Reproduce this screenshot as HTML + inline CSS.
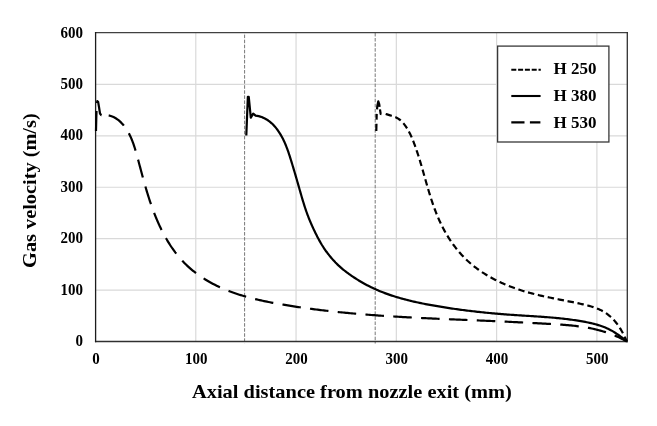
<!DOCTYPE html>
<html><head><meta charset="utf-8"><style>
html,body{margin:0;padding:0;background:#fff;}
svg{display:block;will-change:transform;}
text{font-family:"Liberation Serif","Times New Roman",serif;font-weight:bold;fill:#000;}
</style></head><body>
<svg width="657" height="426" viewBox="0 0 657 426">
<rect x="0" y="0" width="657" height="426" fill="#fff"/>
<g stroke="#d9d9d9" stroke-width="1.2" fill="none">
<line x1="195.78" y1="32.5" x2="195.78" y2="341.5"/>
<line x1="296.06" y1="32.5" x2="296.06" y2="341.5"/>
<line x1="396.34" y1="32.5" x2="396.34" y2="341.5"/>
<line x1="496.62" y1="32.5" x2="496.62" y2="341.5"/>
<line x1="596.9" y1="32.5" x2="596.9" y2="341.5"/>
<line x1="95.5" y1="290.08" x2="627" y2="290.08"/>
<line x1="95.5" y1="238.66" x2="627" y2="238.66"/>
<line x1="95.5" y1="187.24" x2="627" y2="187.24"/>
<line x1="95.5" y1="135.82" x2="627" y2="135.82"/>
<line x1="95.5" y1="84.4" x2="627" y2="84.4"/>
</g>
<g stroke="#787878" stroke-width="1" stroke-dasharray="3.55,1.512" fill="none">
<line x1="244.6" y1="33" x2="244.6" y2="343.5" stroke-dashoffset="3.46"/>
<line x1="375.2" y1="33" x2="375.2" y2="343.5" stroke-dashoffset="0.06"/>
</g>
<g fill="none" stroke-width="1.3" stroke-linecap="square">
<line x1="95.6" y1="32.6" x2="627.3" y2="32.6" stroke="#404040"/>
<line x1="627.3" y1="32.6" x2="627.3" y2="341.5" stroke="#303030"/>
<line x1="95.6" y1="341.5" x2="627.3" y2="341.5" stroke="#303030"/>
<line x1="95.6" y1="32.6" x2="95.6" y2="341.5" stroke="#1c1c1c"/>
</g>
<g fill="none" stroke="#000" stroke-width="2.2" stroke-linejoin="round">
<path d="M246.3,135.5 L247.85,96.9 L248.75,96.9 L250.8,117.7 L253.2,113.6 L255.6,115.6 L255.59,115.61 L257.17,115.85 L258.7,116.18 L260.19,116.59 L261.64,117.07 L263.04,117.63 L264.39,118.26 L265.71,118.95 L266.99,119.7 L268.22,120.52 L269.41,121.39 L270.57,122.32 L271.69,123.3 L272.76,124.32 L273.81,125.39 L274.81,126.49 L275.78,127.64 L276.72,128.82 L277.62,130.03 L278.49,131.27 L279.32,132.53 L280.13,133.82 L280.9,135.12 L281.64,136.44 L282.36,137.77 L283.04,139.1 L283.7,140.45 L284.33,141.8 L284.93,143.17 L285.52,144.53 L286.08,145.91 L286.62,147.29 L287.15,148.68 L287.66,150.07 L288.16,151.47 L288.64,152.88 L289.11,154.29 L289.57,155.7 L290.03,157.12 L290.48,158.55 L290.92,159.97 L291.36,161.41 L291.8,162.84 L292.24,164.28 L292.67,165.72 L293.11,167.17 L293.54,168.61 L293.98,170.06 L294.41,171.52 L294.84,172.97 L295.27,174.42 L295.69,175.88 L296.12,177.34 L296.54,178.79 L296.96,180.25 L297.38,181.71 L297.8,183.17 L298.22,184.63 L298.64,186.08 L299.05,187.54 L299.46,188.99 L299.88,190.45 L300.29,191.9 L300.71,193.35 L301.12,194.8 L301.54,196.24 L301.96,197.69 L302.39,199.13 L302.82,200.57 L303.26,202.01 L303.7,203.44 L304.15,204.87 L304.61,206.3 L305.07,207.73 L305.54,209.15 L306.03,210.57 L306.52,211.99 L307.02,213.4 L307.54,214.81 L308.07,216.21 L308.61,217.61 L309.16,219 L309.73,220.39 L310.31,221.78 L310.9,223.16 L311.5,224.54 L312.11,225.91 L312.73,227.27 L313.36,228.64 L314,229.99 L314.65,231.34 L315.3,232.68 L315.96,234.02 L316.63,235.35 L317.3,236.67 L317.99,237.99 L318.69,239.3 L319.41,240.61 L320.14,241.9 L320.89,243.19 L321.65,244.48 L322.44,245.75 L323.24,247.02 L324.07,248.28 L324.92,249.53 L325.78,250.77 L326.67,252 L327.57,253.22 L328.5,254.42 L329.44,255.62 L330.4,256.8 L331.38,257.96 L332.38,259.11 L333.39,260.24 L334.42,261.36 L335.46,262.46 L336.53,263.54 L337.6,264.6 L338.69,265.64 L339.8,266.65 L340.92,267.65 L342.06,268.63 L343.2,269.58 L344.37,270.51 L345.54,271.43 L346.72,272.33 L347.92,273.21 L349.13,274.08 L350.35,274.94 L351.58,275.79 L352.82,276.63 L354.08,277.46 L355.34,278.28 L356.61,279.1 L357.89,279.9 L359.17,280.69 L360.47,281.47 L361.77,282.24 L363.08,282.99 L364.4,283.73 L365.72,284.45 L367.05,285.16 L368.39,285.85 L369.73,286.53 L371.08,287.2 L372.43,287.85 L373.79,288.48 L375.16,289.1 L376.53,289.71 L377.9,290.31 L379.28,290.89 L380.67,291.46 L382.06,292.02 L383.46,292.56 L384.86,293.1 L386.26,293.62 L387.67,294.13 L389.08,294.62 L390.5,295.11 L391.92,295.59 L393.35,296.05 L394.78,296.51 L396.21,296.95 L397.65,297.39 L399.09,297.81 L400.53,298.23 L401.98,298.63 L403.43,299.03 L404.88,299.42 L406.34,299.8 L407.8,300.17 L409.26,300.53 L410.72,300.89 L412.19,301.23 L413.66,301.57 L415.13,301.91 L416.6,302.23 L418.07,302.55 L419.55,302.86 L421.02,303.17 L422.5,303.47 L423.98,303.77 L425.46,304.05 L426.95,304.34 L428.43,304.62 L429.91,304.89 L431.4,305.16 L432.88,305.43 L434.37,305.69 L435.85,305.94 L437.34,306.2 L438.82,306.45 L440.31,306.69 L441.79,306.93 L443.28,307.17 L444.77,307.41 L446.25,307.64 L447.74,307.87 L449.22,308.1 L450.71,308.32 L452.2,308.54 L453.68,308.76 L455.17,308.97 L456.66,309.18 L458.15,309.39 L459.63,309.59 L461.12,309.79 L462.61,309.99 L464.1,310.18 L465.58,310.37 L467.07,310.56 L468.56,310.74 L470.05,310.93 L471.54,311.1 L473.03,311.28 L474.52,311.45 L476.01,311.62 L477.5,311.79 L478.99,311.95 L480.48,312.12 L481.98,312.27 L483.47,312.43 L484.96,312.58 L486.45,312.73 L487.95,312.88 L489.44,313.02 L490.93,313.16 L492.43,313.3 L493.93,313.44 L495.42,313.57 L496.92,313.7 L498.41,313.83 L499.91,313.96 L501.41,314.08 L502.91,314.2 L504.41,314.32 L505.91,314.43 L507.41,314.55 L508.91,314.66 L510.41,314.76 L511.91,314.87 L513.41,314.97 L514.92,315.07 L516.42,315.17 L517.92,315.27 L519.43,315.36 L520.93,315.46 L522.44,315.55 L523.94,315.65 L525.45,315.74 L526.95,315.83 L528.46,315.93 L529.96,316.02 L531.47,316.11 L532.97,316.21 L534.48,316.31 L535.99,316.4 L537.49,316.5 L539,316.6 L540.5,316.71 L542,316.81 L543.51,316.92 L545.01,317.03 L546.51,317.14 L548.01,317.26 L549.52,317.38 L551.02,317.5 L552.52,317.63 L554.02,317.76 L555.51,317.9 L557.01,318.04 L558.51,318.19 L560,318.34 L561.5,318.5 L562.99,318.66 L564.49,318.83 L565.98,319 L567.47,319.19 L568.96,319.37 L570.44,319.57 L571.93,319.77 L573.41,319.98 L574.9,320.2 L576.38,320.42 L577.86,320.65 L579.34,320.9 L580.81,321.14 L582.29,321.4 L583.76,321.67 L585.23,321.95 L586.7,322.23 L588.17,322.53 L589.63,322.85 L591.09,323.17 L592.54,323.52 L593.99,323.88 L595.44,324.26 L596.87,324.66 L598.3,325.09 L599.73,325.53 L601.14,326.01 L602.55,326.51 L603.94,327.04 L605.33,327.6 L606.7,328.19 L608.07,328.82 L609.42,329.47 L610.76,330.17 L612.09,330.9 L613.4,331.67 L614.7,332.47 L615.99,333.29 L617.26,334.14 L618.51,335.02 L619.75,335.91 L620.97,336.82 L622.17,337.74 L623.36,338.67 L624.52,339.61 L625.67,340.56 L626.79,341.51"/>
<path d="M96,131 L96.3,118 L96.7,106 L97.3,101.2 L98.1,101.8 L99,107 L100,113.5 L101.2,115.2 L104.5,114.9" stroke-dasharray="20,8,17,100"/>
<path d="M104.49,114.89 L106.15,115.01 L107.75,115.24 L109.29,115.56 L110.76,115.98 L112.19,116.49 L113.55,117.09 L114.87,117.76 L116.13,118.5 L117.34,119.32 L118.5,120.19 L119.61,121.13 L120.68,122.11 L121.7,123.15 L122.68,124.22 L123.62,125.33 L124.52,126.47 L125.38,127.65 L126.2,128.84 L126.99,130.07 L127.74,131.31 L128.47,132.58 L129.16,133.88 L129.82,135.19 L130.45,136.53 L131.06,137.88 L131.64,139.25 L132.2,140.63 L132.74,142.03 L133.25,143.44 L133.75,144.87 L134.23,146.31 L134.7,147.75 L135.15,149.21 L135.59,150.67 L136.02,152.14 L136.44,153.61 L136.85,155.09 L137.26,156.56 L137.66,158.04 L138.05,159.52 L138.45,161 L138.84,162.48 L139.23,163.95 L139.63,165.43 L140.02,166.9 L140.41,168.37 L140.8,169.84 L141.19,171.3 L141.59,172.76 L141.98,174.22 L142.38,175.68 L142.77,177.14 L143.17,178.6 L143.57,180.05 L143.98,181.5 L144.39,182.95 L144.8,184.39 L145.21,185.83 L145.62,187.28 L146.05,188.71 L146.47,190.15 L146.9,191.58 L147.33,193.01 L147.77,194.44 L148.22,195.87 L148.67,197.29 L149.12,198.71 L149.58,200.13 L150.05,201.54 L150.53,202.95 L151.01,204.36 L151.5,205.77 L152,207.17 L152.5,208.57 L153.01,209.97 L153.53,211.36 L154.06,212.75 L154.6,214.14 L155.15,215.52 L155.71,216.9 L156.28,218.28 L156.85,219.66 L157.44,221.03 L158.04,222.4 L158.65,223.76 L159.27,225.12 L159.9,226.48 L160.55,227.83 L161.2,229.18 L161.87,230.53 L162.55,231.87 L163.24,233.21 L163.95,234.54 L164.67,235.87 L165.4,237.19 L166.15,238.51 L166.91,239.82 L167.68,241.12 L168.47,242.41 L169.27,243.7 L170.08,244.97 L170.91,246.24 L171.76,247.5 L172.62,248.74 L173.49,249.98 L174.38,251.2 L175.28,252.42 L176.2,253.61 L177.13,254.8 L178.08,255.97 L179.05,257.13 L180.03,258.28 L181.03,259.41 L182.04,260.52 L183.07,261.62 L184.12,262.7 L185.18,263.77 L186.26,264.82 L187.35,265.85 L188.46,266.87 L189.58,267.87 L190.72,268.86 L191.87,269.83 L193.03,270.78 L194.21,271.72 L195.4,272.64 L196.6,273.55 L197.81,274.44 L199.03,275.31 L200.26,276.17 L201.51,277.02 L202.76,277.84 L204.03,278.66 L205.3,279.45 L206.58,280.23 L207.87,281 L209.17,281.75 L210.47,282.48 L211.79,283.2 L213.11,283.91 L214.43,284.59 L215.77,285.27 L217.11,285.93 L218.45,286.57 L219.8,287.2 L221.16,287.82 L222.53,288.42 L223.9,289.01 L225.27,289.59 L226.65,290.15 L228.04,290.7 L229.43,291.24 L230.83,291.76 L232.23,292.28 L233.63,292.78 L235.05,293.27 L236.46,293.75 L237.88,294.22 L239.31,294.68 L240.73,295.12 L242.17,295.56 L243.6,295.99 L245.04,296.41 L246.49,296.81 L247.93,297.21 L249.38,297.6 L250.84,297.99 L252.29,298.36 L253.75,298.72 L255.22,299.08 L256.68,299.43 L258.15,299.77 L259.62,300.11 L261.09,300.43 L262.56,300.75 L264.04,301.07 L265.52,301.38 L267,301.68 L268.48,301.98 L269.96,302.27 L271.44,302.55 L272.93,302.83 L274.41,303.11 L275.9,303.38 L277.39,303.65 L278.88,303.91 L280.36,304.17 L281.85,304.43 L283.34,304.68 L284.83,304.93 L286.32,305.18 L287.81,305.42 L289.3,305.66 L290.79,305.9 L292.28,306.14 L293.76,306.37 L295.25,306.6 L296.74,306.82 L298.23,307.05 L299.72,307.27 L301.21,307.49 L302.7,307.7 L304.19,307.91 L305.68,308.12 L307.17,308.33 L308.67,308.53 L310.16,308.73 L311.65,308.93 L313.14,309.13 L314.63,309.32 L316.12,309.51 L317.61,309.7 L319.1,309.88 L320.59,310.07 L322.08,310.25 L323.58,310.43 L325.07,310.6 L326.56,310.78 L328.05,310.95 L329.54,311.11 L331.04,311.28 L332.53,311.44 L334.02,311.61 L335.51,311.77 L337.01,311.92 L338.5,312.08 L339.99,312.23 L341.48,312.38 L342.98,312.53 L344.47,312.68 L345.96,312.82 L347.46,312.96 L348.95,313.1 L350.45,313.24 L351.94,313.38 L353.43,313.51 L354.93,313.65 L356.42,313.78 L357.92,313.91 L359.41,314.03 L360.9,314.16 L362.4,314.28 L363.89,314.4 L365.39,314.52 L366.88,314.64 L368.38,314.76 L369.87,314.87 L371.37,314.99 L372.87,315.1 L374.36,315.21 L375.86,315.32 L377.35,315.42 L378.85,315.53 L380.34,315.63 L381.84,315.73 L383.34,315.84 L384.83,315.94 L386.33,316.03 L387.83,316.13 L389.32,316.23 L390.82,316.32 L392.32,316.41 L393.82,316.51 L395.31,316.6 L396.81,316.69 L398.31,316.77 L399.81,316.86 L401.3,316.95 L402.8,317.03 L404.3,317.12 L405.8,317.2 L407.3,317.28 L408.79,317.36 L410.29,317.44 L411.79,317.52 L413.29,317.6 L414.79,317.67 L416.29,317.75 L417.79,317.83 L419.29,317.9 L420.79,317.97 L422.29,318.05 L423.79,318.12 L425.29,318.19 L426.79,318.26 L428.29,318.33 L429.79,318.4 L431.29,318.47 L432.79,318.54 L434.29,318.61 L435.79,318.67 L437.29,318.74 L438.79,318.81 L440.29,318.87 L441.79,318.94 L443.3,319 L444.8,319.07 L446.3,319.13 L447.8,319.19 L449.3,319.26 L450.8,319.32 L452.31,319.38 L453.81,319.45 L455.31,319.51 L456.81,319.57 L458.32,319.63 L459.82,319.7 L461.32,319.76 L462.83,319.82 L464.33,319.88 L465.83,319.94 L467.34,320.01 L468.84,320.07 L470.34,320.13 L471.85,320.19 L473.35,320.25 L474.86,320.32 L476.36,320.38 L477.87,320.44 L479.37,320.5 L480.88,320.57 L482.38,320.63 L483.89,320.69 L485.39,320.76 L486.9,320.82 L488.4,320.89 L489.91,320.95 L491.41,321.02 L492.92,321.08 L494.43,321.15 L495.93,321.21 L497.44,321.28 L498.95,321.35 L500.45,321.42 L501.96,321.49 L503.46,321.56 L504.97,321.63 L506.48,321.7 L507.98,321.77 L509.49,321.84 L511,321.91 L512.5,321.98 L514.01,322.06 L515.52,322.13 L517.02,322.2 L518.53,322.28 L520.03,322.35 L521.54,322.43 L523.04,322.5 L524.55,322.58 L526.05,322.66 L527.56,322.74 L529.06,322.81 L530.56,322.89 L532.07,322.97 L533.57,323.05 L535.07,323.13 L536.57,323.21 L538.08,323.3 L539.58,323.38 L541.08,323.46 L542.58,323.54 L544.07,323.63 L545.57,323.71 L547.07,323.8 L548.57,323.88 L550.06,323.97 L551.56,324.06 L553.05,324.14 L554.55,324.23 L556.04,324.33 L557.53,324.42 L559.03,324.52 L560.52,324.62 L562.01,324.72 L563.5,324.83 L564.98,324.94 L566.47,325.06 L567.96,325.19 L569.44,325.32 L570.93,325.46 L572.41,325.61 L573.89,325.77 L575.37,325.93 L576.85,326.11 L578.33,326.29 L579.81,326.48 L581.29,326.69 L582.76,326.91 L584.24,327.14 L585.71,327.38 L587.18,327.63 L588.65,327.9 L590.12,328.18 L591.59,328.48 L593.05,328.79 L594.52,329.12 L595.98,329.47 L597.44,329.83 L598.91,330.21 L600.36,330.6 L601.82,331.02 L603.27,331.45 L604.72,331.9 L606.16,332.36 L607.6,332.84 L609.03,333.35 L610.45,333.86 L611.87,334.4 L613.28,334.95 L614.68,335.53 L616.07,336.12 L617.45,336.73 L618.83,337.35 L620.19,338 L621.53,338.66 L622.87,339.35 L624.19,340.05 L625.5,340.77 L626.8,341.5" stroke-dasharray="18.56,9.31" stroke-dashoffset="23.62"/>
<path d="M376.3,131.1 L376.5,122 L376.7,114 L377.3,106 L378.3,101.3 L379.2,104 L379.9,109 L380.7,114 L382.5,114.4 L385.5,113.9" stroke-dasharray="7.3,4.2,5.8,4.4,14,2.5,5.5,20"/>
<path d="M385.49,113.9 L387.08,114.42 L388.62,114.89 L390.13,115.34 L391.58,115.79 L393,116.25 L394.37,116.75 L395.7,117.31 L396.98,117.94 L398.21,118.66 L399.4,119.48 L400.54,120.4 L401.63,121.4 L402.68,122.48 L403.69,123.63 L404.64,124.84 L405.56,126.08 L406.43,127.37 L407.26,128.68 L408.04,130 L408.79,131.33 L409.49,132.67 L410.17,134.01 L410.81,135.36 L411.42,136.71 L412.01,138.07 L412.58,139.43 L413.13,140.8 L413.66,142.18 L414.19,143.56 L414.7,144.94 L415.21,146.33 L415.7,147.72 L416.19,149.12 L416.67,150.52 L417.14,151.93 L417.61,153.34 L418.07,154.76 L418.53,156.18 L418.97,157.6 L419.42,159.03 L419.86,160.46 L420.29,161.89 L420.72,163.33 L421.15,164.77 L421.57,166.21 L421.99,167.66 L422.41,169.11 L422.83,170.56 L423.24,172.02 L423.66,173.47 L424.07,174.93 L424.49,176.39 L424.9,177.85 L425.32,179.31 L425.73,180.77 L426.15,182.24 L426.57,183.7 L426.99,185.16 L427.42,186.62 L427.85,188.08 L428.28,189.54 L428.72,191 L429.16,192.46 L429.6,193.92 L430.05,195.37 L430.51,196.82 L430.97,198.27 L431.44,199.72 L431.92,201.16 L432.4,202.61 L432.9,204.04 L433.4,205.48 L433.9,206.91 L434.42,208.33 L434.95,209.75 L435.49,211.17 L436.04,212.58 L436.6,213.99 L437.17,215.39 L437.75,216.78 L438.34,218.17 L438.95,219.56 L439.57,220.93 L440.2,222.3 L440.85,223.66 L441.51,225.02 L442.18,226.37 L442.87,227.71 L443.57,229.04 L444.29,230.36 L445.01,231.68 L445.75,232.98 L446.51,234.28 L447.28,235.57 L448.06,236.85 L448.86,238.11 L449.67,239.37 L450.5,240.62 L451.34,241.86 L452.19,243.08 L453.06,244.3 L453.94,245.5 L454.84,246.7 L455.75,247.88 L456.67,249.04 L457.61,250.2 L458.56,251.34 L459.53,252.47 L460.51,253.59 L461.51,254.69 L462.52,255.78 L463.55,256.86 L464.59,257.92 L465.65,258.97 L466.72,260 L467.8,261.02 L468.91,262.02 L470.02,263.01 L471.15,263.98 L472.3,264.94 L473.45,265.88 L474.63,266.81 L475.81,267.72 L477.01,268.62 L478.22,269.5 L479.44,270.37 L480.68,271.22 L481.92,272.06 L483.18,272.88 L484.45,273.69 L485.73,274.49 L487.02,275.27 L488.32,276.04 L489.63,276.79 L490.95,277.53 L492.27,278.26 L493.61,278.97 L494.95,279.67 L496.31,280.35 L497.67,281.03 L499.03,281.69 L500.41,282.33 L501.79,282.97 L503.18,283.59 L504.57,284.19 L505.97,284.79 L507.38,285.37 L508.79,285.94 L510.2,286.49 L511.62,287.04 L513.05,287.57 L514.47,288.09 L515.9,288.6 L517.34,289.09 L518.77,289.57 L520.21,290.04 L521.66,290.5 L523.1,290.95 L524.54,291.39 L525.99,291.81 L527.44,292.23 L528.89,292.63 L530.34,293.03 L531.8,293.42 L533.25,293.79 L534.71,294.16 L536.16,294.52 L537.62,294.88 L539.08,295.22 L540.55,295.56 L542.01,295.9 L543.47,296.23 L544.94,296.55 L546.4,296.87 L547.87,297.18 L549.34,297.49 L550.81,297.79 L552.28,298.09 L553.75,298.39 L555.22,298.69 L556.69,298.98 L558.16,299.27 L559.63,299.57 L561.11,299.86 L562.58,300.15 L564.06,300.44 L565.53,300.73 L567,301.02 L568.48,301.31 L569.95,301.6 L571.43,301.9 L572.9,302.2 L574.38,302.5 L575.86,302.81 L577.33,303.12 L578.81,303.43 L580.28,303.75 L581.76,304.07 L583.23,304.4 L584.7,304.74 L586.17,305.09 L587.63,305.46 L589.08,305.85 L590.53,306.25 L591.97,306.68 L593.39,307.13 L594.81,307.62 L596.21,308.13 L597.59,308.68 L598.96,309.27 L600.31,309.89 L601.64,310.56 L602.95,311.27 L604.24,312.03 L605.5,312.84 L606.74,313.69 L607.95,314.6 L609.14,315.55 L610.29,316.53 L611.42,317.56 L612.51,318.62 L613.57,319.72 L614.59,320.85 L615.58,322.01 L616.53,323.19 L617.45,324.39 L618.33,325.62 L619.17,326.87 L619.99,328.14 L620.77,329.43 L621.53,330.73 L622.26,332.04 L622.97,333.37 L623.66,334.71 L624.32,336.06 L624.96,337.41 L625.59,338.77 L626.2,340.13 L626.8,341.5" stroke-dasharray="6.43,3.69" stroke-dashoffset="9.93"/>
</g>
<g font-size="15">
<text transform="translate(83.0,346.1) scale(1,1.07)" text-anchor="end">0</text>
<text transform="translate(83.0,294.68) scale(1,1.07)" text-anchor="end">100</text>
<text transform="translate(83.0,243.26) scale(1,1.07)" text-anchor="end">200</text>
<text transform="translate(83.0,191.84) scale(1,1.07)" text-anchor="end">300</text>
<text transform="translate(83.0,140.42) scale(1,1.07)" text-anchor="end">400</text>
<text transform="translate(83.0,89) scale(1,1.07)" text-anchor="end">500</text>
<text transform="translate(83.0,37.58) scale(1,1.07)" text-anchor="end">600</text>
<text transform="translate(95.9,363.6) scale(1,1.08)" text-anchor="middle">0</text>
<text transform="translate(196.18,363.6) scale(1,1.08)" text-anchor="middle">100</text>
<text transform="translate(296.46,363.6) scale(1,1.08)" text-anchor="middle">200</text>
<text transform="translate(396.74,363.6) scale(1,1.08)" text-anchor="middle">300</text>
<text transform="translate(497.02,363.6) scale(1,1.08)" text-anchor="middle">400</text>
<text transform="translate(597.3,363.6) scale(1,1.08)" text-anchor="middle">500</text>
</g>
<text transform="translate(192,397.6) scale(1.104,1)" x="0" y="0" font-size="18.5">Axial distance from nozzle exit (mm)</text>
<text transform="translate(35.6,267.9) rotate(-90) scale(1.099,1)" x="0" y="0" font-size="18.5">Gas velocity (m/s)</text>
<rect x="497.6" y="46.1" width="111.3" height="95.9" fill="#fff" stroke="#383838" stroke-width="1.3"/>
<g stroke="#000" stroke-width="2.1" fill="none">
<line x1="511.3" y1="69.7" x2="540.8" y2="69.7" stroke-dasharray="5.0,1.8"/>
<line x1="511.3" y1="96" x2="540.6" y2="96"/>
<line x1="511.3" y1="122.4" x2="540.4" y2="122.4" stroke-dasharray="13.2,5.4"/>
</g>
<g font-size="17.6">
<text transform="translate(553.6,74.2) scale(0.965,1)">H 250</text>
<text transform="translate(553.6,101.2) scale(0.965,1)">H 380</text>
<text transform="translate(553.6,127.7) scale(0.965,1)">H 530</text>
</g>
</svg>
</body></html>
